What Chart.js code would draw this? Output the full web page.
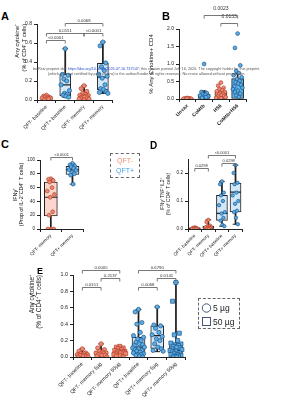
<!DOCTYPE html>
<html><head><meta charset="utf-8">
<script src="https://cdn.jsdelivr.net/npm/chart.js@4.4.1/dist/chart.umd.min.js"></script>
<style>
body{margin:0;width:294px;height:400px;background:#fff;position:relative;overflow:hidden;font-family:"Liberation Sans",Arial,sans-serif;}
canvas{position:absolute;}
.lt{position:absolute;font-weight:bold;color:#000;line-height:1;}
.wm{position:absolute;font-size:3.8px;color:#555;white-space:nowrap;line-height:1;}
.wm a{color:#3050d0;text-decoration:none;}
.lg{position:absolute;border:1px dashed #666;box-sizing:border-box;}
</style></head><body>
<canvas id="cA"></canvas><canvas id="cB"></canvas><canvas id="cC"></canvas><canvas id="cD"></canvas><canvas id="cE"></canvas>
<div class="lt" style="left:1px;top:11px;font-size:11px">A</div>
<div class="lt" style="left:162px;top:11px;font-size:11px">B</div>
<div class="lt" style="left:1px;top:139px;font-size:11px">C</div>
<div class="lt" style="left:150px;top:141px;font-size:10px">D</div>
<div class="lt" style="left:37px;top:267px;font-size:9px">E</div>
<div class="wm" style="left:33px;top:68px">bioRxiv preprint doi: <a>https://doi.org/10.1101/2026.07.10.737547</a>; this version posted July 16, 2026. The copyright holder for this preprint</div>
<div class="wm" style="left:48px;top:73px">(which was not certified by peer review) is the author/funder. All rights reserved. No reuse allowed without permission.</div>
<div class="lg" style="left:110px;top:153px;width:30px;height:25px;text-align:center;font-size:7px;line-height:10px;padding-top:2px">
<div style="color:#f28d78">QFT-</div><div style="color:#46a6ea">QFT+</div></div>
<div class="lg" style="left:198px;top:298px;width:42px;height:31px;font-size:8.5px;color:#222">
<svg width="42" height="31" style="position:absolute;left:0;top:0">
<circle cx="7.5" cy="9" r="4.2" fill="none" stroke="#45567a" stroke-width="1"/>
<rect x="3.5" y="18.5" width="8" height="8" fill="none" stroke="#45567a" stroke-width="1"/>
<text x="14" y="12" font-size="8.5" font-family="Liberation Sans, Arial" fill="#222">5 µg</text>
<text x="14" y="26" font-size="8.5" font-family="Liberation Sans, Arial" fill="#222">50 µg</text>
</svg></div>
<script>
// ---------------- DATA ----------------
// Panel A
const catsA = ['QFT- baseline','QFT+ baseline','QFT- memory','QFT+ memory'];
const groupA = ['neg','pos','neg','pos'];
const ptsA0 = [0.05,0.04,0.03,0.03,0.02,0.02,0.02,0.01,0.01,0.00];
const ptsA1 = [0.54,0.27,0.26,0.22,0.20,0.16,0.10,0.07,0.06,0.05,0.04,0.03];
const ptsA2 = [0.15,0.12,0.09,0.07,0.06,0.05,0.05,0.04,0.04,0.03,0.03,0.02,0.02,0.01,0.01,0.00];
const ptsA3 = [0.61,0.57,0.39,0.35,0.31,0.27,0.25,0.23,0.16,0.12,0.11,0.09,0.08,0.07];
const minA = [0,0.03,0,0.07];
const q1A  = [0.01,0.045,0.01,0.11];
const medA = [0.02,0.16,0.035,0.24];
const q3A  = [0.035,0.27,0.06,0.385];
const maxA = [0.05,0.54,0.15,0.61];
const ticksA = [0,0.2,0.4,0.6,0.8];
const sigA = [[0,1,'<0.0001'],[0,2,'0.0151'],[2,3,'<0.0001'],[1,3,'0.0068']];

// Panel B
const catsB = ['Unvax','CoMtb','H56','CoMtb+H56'];
const groupB = ['neg','pos','neg','pos'];
const meanB = [0.02,0.13,0.20,0.58];
const errB  = [0.01,0.10,0.05,0.14];
const ptsB0 = [0.03,0.02,0.02,0.01,0.01,0.00,0.00,0.01];
const ptsB1 = [1.00,0.20,0.17,0.14,0.12,0.10,0.08,0.06,0.05,0.03];
const ptsB2 = [0.47,0.38,0.32,0.28,0.25,0.22,0.20,0.17,0.15,0.13,0.11,0.09,0.07,0.05,0.03,0.02];
const ptsB3 = [1.87,1.46,0.96,0.80,0.74,0.68,0.62,0.57,0.52,0.48,0.44,0.40,0.36,0.32,0.28,0.24,0.20,0.15,0.10,0.06];
const ticksB = [0,0.5,1.0,1.5,2.0];
const sigB = [[2,3,'0.0133'],[1,3,'0.0023']];

// Panel C
const catsC = ['QFT- memory','QFT+ memory'];
const groupC = ['neg','pos'];
const ptsC0 = [73,72,70,68,60,55,50,46,25,20,0,0,0];
const ptsC1 = [95,93,91,90,88,86,85,82,80,78,65];
const minC = [0,65];
const q1C  = [19,79];
const medC = [46,86];
const q3C  = [68,91];
const maxC = [73,95];
const ticksC = [0,20,40,60,80,100];
const sigC = [[0,1,'<0.0001']];

// Panel D
const catsD = ['QFT- baseline','QFT- memory','QFT+ baseline','QFT+ memory'];
const groupD = ['neg','neg','pos','pos'];
const ptsD0 = [0.006,0.004,0.003,0.002,0.002,0.001,0.001,0,0];
const ptsD1 = [0.033,0.025,0.012,0.010,0.008,0.006,0.005,0.003,0.002,0.001,0];
const ptsD2 = [0.17,0.16,0.13,0.12,0.10,0.085,0.06,0.055,0.04,0.03,0.015,0.01];
const ptsD3 = [0.228,0.20,0.165,0.16,0.13,0.12,0.10,0.09,0.065,0.06,0.04,0.017];
const minD = [0,0,0.01,0.017];
const q1D  = [0.001,0.002,0.031,0.061];
const medD = [0.002,0.005,0.056,0.132];
const q3D  = [0.004,0.010,0.12,0.164];
const maxD = [0.006,0.033,0.17,0.228];
const ticksD = [0,0.1,0.2];
const sigD = [[0,1,'0.0298'],[2,3,'0.0298'],[1,3,'<0.0001']];

// Panel E
const catsE = ['QFT- baseline','QFT- memory 5µg','QFT- memory 50µg','QFT+ baseline','QFT+ memory 5µg','QFT+ memory 50µg'];
const groupE = ['neg','neg','neg','pos','pos','pos'];
const doseE = ['5','5','50','5','5','50'];
const ptsE0 = [0.10,0.07,0.05,0.04,0.04,0.03,0.03,0.02,0.02,0.02,0.01,0.01,0,0];
const ptsE1 = [0.16,0.11,0.09,0.07,0.06,0.05,0.05,0.04,0.04,0.03,0.02,0.02,0.01,0];
const ptsE2 = [0.13,0.12,0.11,0.10,0.09,0.08,0.07,0.07,0.06,0.06,0.05,0.05,0.04,0.04,0.03,0.02,0.01,0];
const ptsE3 = [0.58,0.55,0.42,0.40,0.30,0.26,0.24,0.22,0.20,0.18,0.16,0.15,0.14,0.12,0.11,0.10,0.09,0.08,0.07,0.06,0.05,0.04,0.03,0.03,0.02,0.01,0];
const ptsE4 = [0.61,0.39,0.38,0.35,0.30,0.27,0.25,0.22,0.20,0.16,0.12,0.10,0.08,0.07];
const ptsE5 = [0.91,0.68,0.29,0.27,0.20,0.17,0.16,0.15,0.14,0.13,0.12,0.11,0.10,0.09,0.08,0.07,0.06,0.05,0.04,0.03,0.03,0.02,0.01,0.01,0,0];
const minE = [0,0,0,0,0.065,0];
const q1E  = [0.01,0.02,0.03,0.04,0.105,0.02];
const medE = [0.02,0.04,0.06,0.12,0.26,0.08];
const q3E  = [0.04,0.07,0.09,0.24,0.38,0.16];
const maxE = [0.10,0.16,0.13,0.58,0.61,0.91];
const ticksE = [0,0.2,0.4,0.6,0.8,1.0];
const sigE = [[0,1,'0.0151'],[1,2,'0.2137'],[0,2,'0.0005'],[3,4,'0.0068'],[4,5,'0.0141'],[3,5,'0.6790']];

// ---------------- STYLE / LAYOUT ----------------
const FONT = "'Liberation Sans', Arial, sans-serif";
const COL = {
  neg:{box:'#fcd6cc', pt:'#ef8a74', ptB:'#b3432d'},
  pos:{box:'#d0e8f9', pt:'#5eaee6', ptB:'#1b5488'}
};
const barFillB = ['#f8c6b8','#a6d3f3','#f6b9a9','#5db2ea'];
const JIT = [0,-0.5,0.5,-0.25,0.25,-0.75,0.75,-0.12,0.38,-0.38,0.12,0.62,-0.62,0.88,-0.88];

const bracketPlugin = {
  id:'brk',
  afterDraw(chart, args, o){
    const ctx = chart.ctx, xs = chart.scales.x, ys = chart.scales.y;
    (o.items||[]).forEach((b,i)=>{
      const x1 = xs.getPixelForValue(b[0]), x2 = xs.getPixelForValue(b[1]);
      const y = Math.round(ys.getPixelForValue(o.levels[i]))+0.5;
      ctx.save();
      ctx.strokeStyle='#555'; ctx.lineWidth=0.8;
      ctx.beginPath(); ctx.moveTo(x1,y+3); ctx.lineTo(x1,y); ctx.lineTo(x2,y); ctx.lineTo(x2,y+3); ctx.stroke();
      ctx.fillStyle='#333'; ctx.font=o.fs+'px '+FONT; ctx.textAlign='center'; ctx.textBaseline='bottom';
      ctx.fillText(b[2],(x1+x2)/2,y-(o.gap||1));
      ctx.restore();
    });
  }
};

function axStyle(){
  return {
    grid:{display:true,drawOnChartArea:false,drawTicks:true,tickLength:3,color:'#222',lineWidth:1},
    border:{display:true,color:'#222',width:1}
  };
}

function ptsDatasets(list, groups, spread, radius, shapes){
  return list.map((arr,i)=>({
    type:'scatter', xAxisID:'xs', yAxisID:'y', order:1,
    data: arr.map((v,k)=>({x:i+JIT[k%JIT.length]*spread, y:v})),
    pointStyle: shapes ? shapes[i] : 'circle',
    radius: shapes && shapes[i]==='rect' ? radius*1.35 : radius,
    backgroundColor: COL[groups[i]].pt, borderColor: COL[groups[i]].ptB, borderWidth:0.7
  }));
}

function boxDatasets(groups, mins,q1s,meds,q3s,maxs, boxW){
  return [
    {type:'bar', xAxisID:'x', yAxisID:'y', order:5, grouped:false,
     data: mins.map((m,i)=>[m,maxs[i]]), backgroundColor:'#222', barThickness:1.1},
    {type:'bar', xAxisID:'x', yAxisID:'y', order:4, grouped:false,
     data: q1s.map((q,i)=>[q,q3s[i]]), backgroundColor: groups.map(g=>COL[g].box),
     borderColor:'#222', borderWidth:1, borderSkipped:false, barThickness:boxW},
    {type:'scatter', xAxisID:'xs', yAxisID:'y', order:3,
     data: meds.map((m,i)=>({x:i,y:m})), pointStyle:'line', radius:boxW/2, borderColor:'#222', borderWidth:1.2},
    {type:'scatter', xAxisID:'xs', yAxisID:'y', order:3,
     data: mins.map((m,i)=>({x:i,y:m})).concat(maxs.map((m,i)=>({x:i,y:m}))), pointStyle:'line', radius:2.8, borderColor:'#222', borderWidth:1}
  ];
}

function make(id, L, labels, datasets, c){
  const cv = document.getElementById(id);
  cv.width = L.w; cv.height = L.h; cv.style.left = L.x+'px'; cv.style.top = L.y+'px';
  const ax = axStyle();
  return new Chart(cv, {
    type:'bar',
    data:{labels, datasets},
    options:{
      responsive:false, animation:false, devicePixelRatio:1, events:[],
      layout:{padding:{top:L.pt,right:L.pr,left:0,bottom:0}},
      plugins:{legend:{display:false}, tooltip:{enabled:false}, brk:{items:c.sig, levels:c.levels, fs:c.bfs, gap:c.bgap}},
      scales:{
        x:{type:'category', offset:true, grid:ax.grid, border:ax.border,
           ticks:{autoSkip:false,minRotation:45,maxRotation:45,color:'#222',padding:1,
                  font:{family:FONT,size:c.xfs,weight:c.xbold?'bold':'normal'}},
           afterFit:s=>{s.height=L.xh;}},
        xs:{type:'linear', display:false, offset:false, bounds:'ticks', grace:0, min:-0.5, max:labels.length-0.5},
        y:{type:'linear', min:0, max:c.yMax, grid:ax.grid, border:ax.border,
           afterBuildTicks:s=>{s.ticks=c.ticks.map(v=>({value:v}));},
           ticks:{color:'#222',padding:2,font:{family:FONT,size:c.yfs},callback:v=>c.fmt(v)},
           title:{display:true,text:c.title,color:'#111',align:c.talign||'center',font:{family:FONT,size:c.tfs},padding:{top:0,bottom:1}},
           afterFit:s=>{s.width=L.yw;}}
      }
    },
    plugins:[bracketPlugin]
  });
}

const f1 = v=>v.toFixed(1);

// Panel A
make('cA', {x:14,y:0,w:105,h:130,pt:24,pr:4,yw:23,xh:30}, catsA,
  boxDatasets(groupA,minA,q1A,medA,q3A,maxA,11).concat(ptsDatasets([ptsA0,ptsA1,ptsA2,ptsA3],groupA,0.3,2.1)),
  {sig:sigA, levels:[0.632,0.705,0.705,0.81], bfs:4.3, bgap:1, ticks:ticksA, yMax:0.8, fmt:f1,
   title:['Any cytokine⁺','(% of CD4⁺ T cells)'], talign:'end', tfs:5.6, yfs:5, xfs:5});

// Panel B
make('cB', {x:148,y:0,w:103,h:131,pt:29,pr:4,yw:31,xh:32}, catsB,
  [
   {type:'bar', xAxisID:'x', yAxisID:'y', order:4, grouped:false, data:meanB,
    backgroundColor:barFillB, borderColor:'#222', borderWidth:1, borderSkipped:false, barThickness:12},
   {type:'bar', xAxisID:'x', yAxisID:'y', order:3, grouped:false, data:meanB.map((m,i)=>[m,m+errB[i]]),
    backgroundColor:'#222', barThickness:1},
   {type:'scatter', xAxisID:'xs', yAxisID:'y', order:3, data:meanB.map((m,i)=>({x:i,y:m+errB[i]})),
    pointStyle:'line', radius:2.5, borderColor:'#222', borderWidth:1}
  ].concat(ptsDatasets([ptsB0,ptsB1,ptsB2,ptsB3],groupB,0.32,1.9)),
  {sig:sigB, levels:[2.17,2.41], bfs:5, bgap:4, ticks:ticksB, yMax:2.0, fmt:f1,
   title:'% Any Cytokine+ CD4', tfs:6, yfs:5, xfs:5, xbold:true});

// Panel C
make('cC', {x:12,y:130,w:79,h:129,pt:30,pr:4,yw:28,xh:30}, catsC,
  boxDatasets(groupC,minC,q1C,medC,q3C,maxC,13).concat(ptsDatasets([ptsC0,ptsC1],groupC,0.22,1.9)),
  {sig:sigC, levels:[104.8], bfs:4, bgap:1, ticks:ticksC, yMax:100, fmt:v=>String(v),
   title:['IFNγ⁺','(Prop of IL-2⁺CD4⁺ T cells)'], tfs:5.4, yfs:4.6, xfs:4.6});

// Panel D
make('cD', {x:160,y:130,w:89,h:129,pt:29,pr:4,yw:28,xh:30}, catsD,
  boxDatasets(groupD,minD,q1D,medD,q3D,maxD,11).concat(ptsDatasets([ptsD0,ptsD1,ptsD2,ptsD3],groupD,0.28,1.7)),
  {sig:sigD, levels:[0.218,0.237,0.266], bfs:4, bgap:1, ticks:ticksD, yMax:0.25, fmt:f1,
   title:['IFNγ⁺TNF⁺IL2⁺','(% of CD4⁺ T cells)'], tfs:5, yfs:4.6, xfs:4.6});

// Panel E
make('cE', {x:28,y:255,w:165,h:145,pt:20,pr:4,yw:45,xh:43}, catsE,
  boxDatasets(groupE,minE,q1E,medE,q3E,maxE,13).concat(ptsDatasets([ptsE0,ptsE1,ptsE2,ptsE3,ptsE4,ptsE5],groupE,0.36,2.1,
    doseE.map(d=>d==='50'?'rect':'circle'))),
  {sig:sigE, levels:[0.85,0.967,1.061,0.85,0.967,1.061], bfs:4.3, bgap:1, ticks:ticksE, yMax:1.0, fmt:f1,
   title:['Any cytokine⁺','(% of CD4⁺ T cells)'], talign:'end', tfs:6.4, yfs:5.4, xfs:5.2});
</script>
</body></html>
